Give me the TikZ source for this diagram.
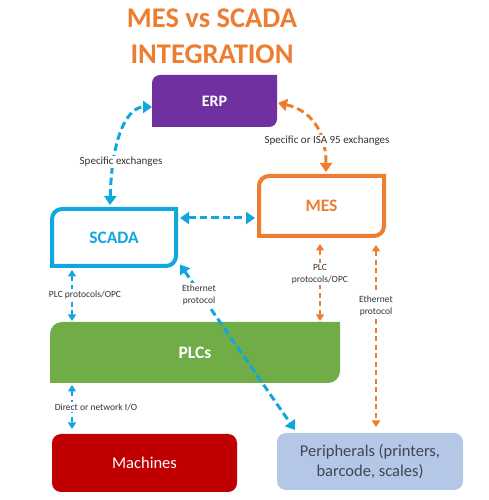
\documentclass[tikz,border=0pt]{standalone}
\usepackage{fontspec}
\setmainfont{Carlito}
\usetikzlibrary{arrows.meta,calc}
\pgfdeclarelayer{background}
\pgfsetlayers{background,main}
\definecolor{cyanc}{RGB}{18,166,225}
\definecolor{orangec}{RGB}{237,125,49}
\definecolor{purplec}{RGB}{112,48,160}
\definecolor{greenc}{RGB}{112,173,71}
\definecolor{redc}{RGB}{192,0,0}
\definecolor{lbluec}{RGB}{180,199,231}
\definecolor{labc}{RGB}{50,50,50}
\definecolor{perc}{RGB}{64,70,84}
\newcommand\rdiagbox[3]{%
  \path[#3] (#1.south west) -- ([yshift=-#2]#1.north west)
    arc[start angle=180,end angle=90,radius=#2] -- (#1.north east)
    -- ([yshift=#2]#1.south east)
    arc[start angle=0,end angle=-90,radius=#2] -- cycle;}
\tikzset{
  box/.style={shape=rectangle,inner sep=0pt,outer sep=0pt,align=center},
  boxtitle/.style={font=\fontsize{17.5}{20}\selectfont\bfseries},
  big/.style={line width=3pt,dash pattern=on 7.5pt off 4pt,{Triangle[width=12pt,length=9pt]}-{Triangle[width=12pt,length=9pt]}},
  small/.style={line width=2.2pt,dash pattern=on 5pt off 3.5pt,{Triangle[width=8pt,length=6.5pt]}-{Triangle[width=8pt,length=6.5pt]}},
  lab/.style={font=\fontsize{9.5}{12}\selectfont,text=labc,align=center,fill=white,inner sep=1.5pt},
  toplab/.style={font=\fontsize{11}{13}\selectfont,text=labc,align=center,fill=white,inner sep=1.5pt},
}
\begin{document}
\begin{tikzpicture}[x=1pt,y=1pt]
\useasboundingbox (0,0) rectangle (489,500);
% title
\node[font=\fontsize{28.5}{36}\selectfont\bfseries,text=orangec,align=center] (title) at (212,463.5) {MES vs SCADA\\INTEGRATION};
% boxes
\node[box,minimum width=125pt,minimum height=52pt,boxtitle,font=\fontsize{16}{20}\selectfont\bfseries,text=white] (erp) at (214.5,399) {ERP};
\node[box,minimum width=124pt,minimum height=57pt,boxtitle,text=cyanc] (scada) at (114,262.5) {SCADA};
\node[box,minimum width=125pt,minimum height=60pt,boxtitle,text=orangec] (mes) at (321.5,294) {MES};
\node[box,minimum width=290pt,minimum height=61pt,boxtitle,text=white] (plc) at (195,147.5) {PLCs};
\node[box,minimum width=185pt,minimum height=58pt,fill=redc,rounded corners=9pt,text=white,font=\fontsize{16.5}{20}\selectfont] (mach) at (144.5,37) {Machines};
\node[box,minimum width=186pt,minimum height=57pt,fill=lbluec,rounded corners=9pt,text=perc,font=\fontsize{16.5}{20}\selectfont] (peri) at (370,38.5) {Peripherals (printers,\\barcode, scales)};
\begin{pgfonlayer}{background}
\rdiagbox{erp}{8pt}{fill=purplec}
\rdiagbox{scada}{10pt}{draw=cyanc,line width=4pt,fill=white}
\rdiagbox{mes}{10pt}{draw=orangec,line width=4pt,fill=white}
\rdiagbox{plc}{12pt}{fill=greenc}
\end{pgfonlayer}
% connectors
\draw[big,cyanc] ($(scada.north)+(-4,4)$) .. controls +(2,75) and +(-22,0) .. ($(erp.west)+(0,-6)$);
\draw[big,orangec] ($(erp.east)+(1,-2)$) .. controls +(32,-7) and +(0,42) .. ($(mes.north)+(4.5,4)$);
\draw[big,cyanc] ($(scada.east)+(4,19.5)$) -- ($(mes.west)+(-4,-12)$);
\draw[small,cyanc] ($(scada.south)+(-42,-4)$) -- ($(plc.north)+(-123,1)$);
\draw[big,cyanc] ($(scada.south east)+(4,1.5)$) -- ($(peri.north west)+(18,3)$);
\draw[small,orangec] ($(mes.south)+(-1.5,-8)$) -- ($(plc.north)+(125,1)$);
\draw[small,orangec] ($(mes.south)+(54.5,-9)$) -- ($(peri.north)+(6,6)$);
\draw[small,cyanc] ($(plc.south)+(-123,-2)$) -- ($(mach.north)+(-72.5,5)$);
% labels
\node[toplab] (l1) at (121,338) {Specific exchanges};
\node[toplab] (l2) at (327,359) {Specific or ISA 95 exchanges};
\node[lab] (l4) at (85,205) {PLC protocols/OPC};
\node[lab] (l5) at (199,205) {Ethernet\\protocol};
\node[lab] (l6) at (320,226) {PLC\\protocols/OPC};
\node[lab] (l7) at (376,194) {Ethernet\\protocol};
\node[lab] (l8) at (96,93) {Direct or network I/O};
\end{tikzpicture}
\end{document}
